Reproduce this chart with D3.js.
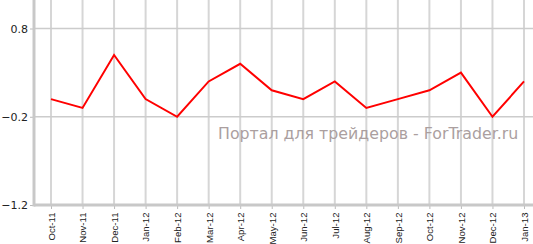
<!DOCTYPE html>
<meta charset="utf-8">
<head>
    <script src="https://d3js.org/d3.v7.min.js"></script>
</head>
<style>
body { margin: 0; background: #fff; }
svg { display: block; }
</style>
<body>
<svg></svg>
<script>

let months = ["Oct-11", "Nov-11", "Dec-11", "Jan-12", "Feb-12", "Mar-12", "Apr-12", "May-12",
              "Jun-12", "Jul-12", "Aug-12", "Sep-12", "Oct-12", "Nov-12", "Dec-12", "Jan-13"];
let values = [0.0, -0.1, 0.5, 0.0, -0.2, 0.2, 0.4, 0.1,
              0.0, 0.2, -0.1, 0.0, 0.1, 0.3, -0.2, 0.2];
let yTicks = [0.8, -0.2, -1.2];

let width = 533, height = 244;
let left = 34, bottom = 205;

let svg = d3.select("svg")
    .attr("width", width)
    .attr("height", height);

let x = d3.scalePoint()
    .domain(months)
    .range([51, 524]);

let y = d3.scaleLinear()
    .domain([-1.2, 0.8])
    .range([bottom, 28.5]);

// vertical grid
svg.append("g")
  .selectAll("line")
  .data(months)
  .enter().append("line")
  .attr("x1", d => x(d)).attr("x2", d => x(d))
  .attr("y1", 0).attr("y2", bottom)
  .attr("stroke", "#d6d6d6")
  .attr("stroke-width", 2);

// horizontal grid
svg.append("g")
  .selectAll("line")
  .data(yTicks.slice(0, 2))
  .enter().append("line")
  .attr("x1", left).attr("x2", width)
  .attr("y1", d => y(d)).attr("y2", d => y(d))
  .attr("stroke", "#cccccc")
  .attr("stroke-width", 1.5);

// watermark
svg.append("text")
  .attr("x", 218)
  .attr("y", 139)
  .attr("font-family", "DejaVu Sans, Verdana, sans-serif")
  .attr("font-size", "15.8px")
  .attr("fill", "#ab9f9f")
  .text("Портал для трейдеров - ForTrader.ru");

// y axis
let yAxis = svg.append("g")
  .attr("transform", "translate(" + left + ",0)")
  .call(d3.axisLeft(y).tickValues(yTicks).tickSize(4).tickPadding(2).tickFormat(d3.format("")));
yAxis.select(".domain").remove();
yAxis.selectAll(".tick line").attr("stroke", "#bbb");
yAxis.selectAll("text")
  .attr("font-family", "DejaVu Sans, Verdana, sans-serif")
  .attr("font-size", "11px")
  .attr("fill", "#222");

// x axis
let xAxis = svg.append("g")
  .attr("transform", "translate(0," + bottom + ")")
  .call(d3.axisBottom(x).tickSize(4).tickPadding(4));
xAxis.select(".domain").remove();
xAxis.selectAll(".tick line").attr("stroke", "#bbb");
xAxis.selectAll("text")
  .attr("font-family", "Liberation Sans, Arial, sans-serif")
  .attr("font-size", "9.6px")
  .attr("fill", "#222")
  .attr("text-anchor", "end")
  .attr("transform", "rotate(-90)")
  .attr("x", -7.5)
  .attr("y", 0)
  .attr("dy", "0.35em");

// axis lines
svg.append("line")
  .attr("x1", left).attr("x2", left)
  .attr("y1", 0).attr("y2", bottom + 1.5)
  .attr("stroke", "#c8c8c8").attr("stroke-width", 3);
svg.append("line")
  .attr("x1", left).attr("x2", width)
  .attr("y1", bottom).attr("y2", bottom)
  .attr("stroke", "#c8c8c8").attr("stroke-width", 3);

// series line
let line = d3.line()
  .x((d, i) => x(months[i]))
  .y(d => y(d));

svg.append("path")
  .datum(values)
  .attr("d", line)
  .attr("fill", "none")
  .attr("stroke", "#ff0000")
  .attr("stroke-width", 2);

</script>
</body>
